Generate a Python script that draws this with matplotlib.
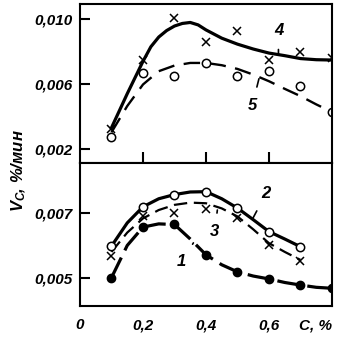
import numpy as np
import matplotlib
matplotlib.use('Agg')
import matplotlib.pyplot as plt

plt.rcParams['font.family'] = ['Liberation Sans', 'DejaVu Sans']
plt.rcParams['font.style'] = 'italic'
plt.rcParams['font.weight'] = 'bold'
plt.rcParams['mathtext.fontset'] = 'custom'
plt.rcParams['mathtext.it'] = 'Liberation Sans:italic:bold'
plt.rcParams['mathtext.rm'] = 'Liberation Sans:italic:bold'

# measured points, top panel
c_pts = [0.1, 0.2, 0.3, 0.4, 0.5, 0.6, 0.7, 0.8]
v4_pts = [0.00325, 0.00748, 0.0101, 0.0086, 0.00928, 0.0075, 0.0080, 0.00758]
v5_pts = [0.00274, 0.00669, 0.0065, 0.00728, 0.00652, 0.0068, 0.00587, 0.00427]

# fitted curves, top panel
c4_fit = [0.1, 0.15, 0.2, 0.225, 0.25, 0.275, 0.3, 0.325, 0.35, 0.375, 0.4, 0.45, 0.5, 0.55,
          0.6, 0.65, 0.7, 0.75, 0.8]
v4_fit = [0.0033, 0.0054, 0.0074, 0.0083, 0.0089, 0.0093, 0.00958, 0.00974, 0.0098, 0.00965,
          0.00934, 0.00883, 0.00846, 0.00816, 0.00791, 0.00775, 0.00757, 0.0075, 0.00748]
c5_fit = [0.1, 0.15, 0.2, 0.25, 0.3, 0.35, 0.4, 0.45, 0.5, 0.55, 0.6, 0.65, 0.7, 0.75, 0.8]
v5_fit = [0.00302, 0.00464, 0.00597, 0.00679, 0.00714, 0.0073, 0.0073, 0.00716, 0.00693,
          0.00658, 0.00617, 0.0057, 0.00525, 0.00474, 0.00427]

# bottom panel points
c1_pts = [0.1, 0.2, 0.3, 0.4, 0.5, 0.6, 0.7, 0.8]
v1_pts = [0.0050, 0.00657, 0.00668, 0.00571, 0.00518, 0.00496, 0.00477, 0.00467]
c23_pts = [0.1, 0.2, 0.3, 0.4, 0.5, 0.6, 0.7]
v2_pts = [0.00598, 0.0072, 0.00758, 0.00767, 0.00716, 0.00643, 0.00596]
v3_pts = [0.00567, 0.00693, 0.00702, 0.00714, 0.00684, 0.00601, 0.00552]

# bottom panel curves
c1_fit = [0.1, 0.15, 0.2, 0.25, 0.3, 0.35, 0.4, 0.45, 0.5, 0.55, 0.6, 0.65, 0.7, 0.75, 0.8]
v1_fit = [0.0050, 0.0060, 0.00657, 0.00667, 0.00665, 0.0062, 0.00571, 0.0054, 0.00518,
          0.00505, 0.00496, 0.00485, 0.00477, 0.0047, 0.00467]
c23_fit = [0.1, 0.15, 0.2, 0.25, 0.3, 0.35, 0.4, 0.45, 0.5, 0.55, 0.6, 0.65, 0.7]
v2_fit = [0.00598, 0.0067, 0.0072, 0.00745, 0.00758, 0.00766, 0.00767, 0.00745, 0.00716,
          0.0068, 0.00643, 0.0062, 0.00596]
v3_fit = [0.0058, 0.0064, 0.00684, 0.0071, 0.00726, 0.00733, 0.00731, 0.00715, 0.0069,
          0.0065, 0.00607, 0.0058, 0.00555]

fig = plt.figure(figsize=(3.41, 3.37), dpi=100)
ax1 = fig.add_axes([0.2346, 0.5163, 0.739, 0.4718])
ax2 = fig.add_axes([0.2346, 0.092, 0.739, 0.4243])

lw = 2.3
ax1.plot(c4_fit, v4_fit, color='black', lw=lw)
ax1.plot(c5_fit, v5_fit, color='black', lw=1.7, dashes=(7, 4))
ax1.plot(c_pts, v4_pts, 'x', color='black', ms=6, mew=1.1)
ax1.plot(c_pts, v5_pts, 'o', color='black', mfc='white', ms=6, mew=1.1)

ax2.plot(c23_fit, v2_fit, color='black', lw=lw)
ax2.plot(c23_fit, v3_fit, color='black', lw=1.6, dashes=(6, 3))
ax2.plot(c1_fit, v1_fit, color='black', lw=lw, dashes=(7, 2.5))
ax2.plot(c23_pts, v2_pts, 'o', color='black', mfc='white', ms=6, mew=1.1)
ax2.plot(c23_pts, v3_pts, 'x', color='black', ms=6, mew=1.1)
ax2.plot(c1_pts, v1_pts, 'o', color='black', ms=6)

for ax in (ax1, ax2):
    ax.set_xlim(0, 0.8)
    for s in ax.spines.values():
        s.set_linewidth(1.5)
    ax.tick_params(axis='y', direction='in', length=7, width=1.5, pad=5, labelsize=11)

ax1.set_ylim(0.00112, 0.01094)
ax1.set_yticks([0.002, 0.006, 0.010])
ax1.set_yticklabels(['0,002', '0,006', '0,010'])
ax1.set_xticks([0.2, 0.4, 0.6])
ax1.tick_params(axis='x', direction='in', length=8, width=1.5, labelbottom=False)

ax2.set_ylim(0.00412, 0.00856)
ax2.set_yticks([0.005, 0.007])
ax2.set_yticklabels(['0,005', '0,007'])
ax2.set_xticks([0, 0.2, 0.4, 0.6, 0.8])
ax2.set_xticklabels(['0', '0,2', '0,4', '0,6', 'C, %'])
ax2.tick_params(axis='x', length=0, pad=9, labelsize=11)
ax2.get_xticklabels()[-1].set_horizontalalignment('right')

kw = dict(fontsize=12, ha='center', va='center',
          arrowprops=dict(arrowstyle='-', color='black', lw=1.2, shrinkA=6, shrinkB=0))
ax1.annotate('4', xy=(0.63, 0.00781), xytext=(0.63, 0.00928), **kw)
ax1.annotate('5', xy=(0.568, 0.00632), xytext=(0.547, 0.00468), **kw)
ax2.annotate('2', xy=(0.547, 0.00681), xytext=(0.591, 0.00762), **kw)
ax2.annotate('3', xy=(0.436, 0.0071), xytext=(0.428, 0.00643), **kw)
ax2.annotate('1', xy=(0.36, 0.00608), xytext=(0.323, 0.0055), **kw)

fig.text(0.056, 0.495, r'$V_C$, %/мин', rotation=90, ha='center', va='center', fontsize=12)

fig.savefig('out.png', dpi=100)
